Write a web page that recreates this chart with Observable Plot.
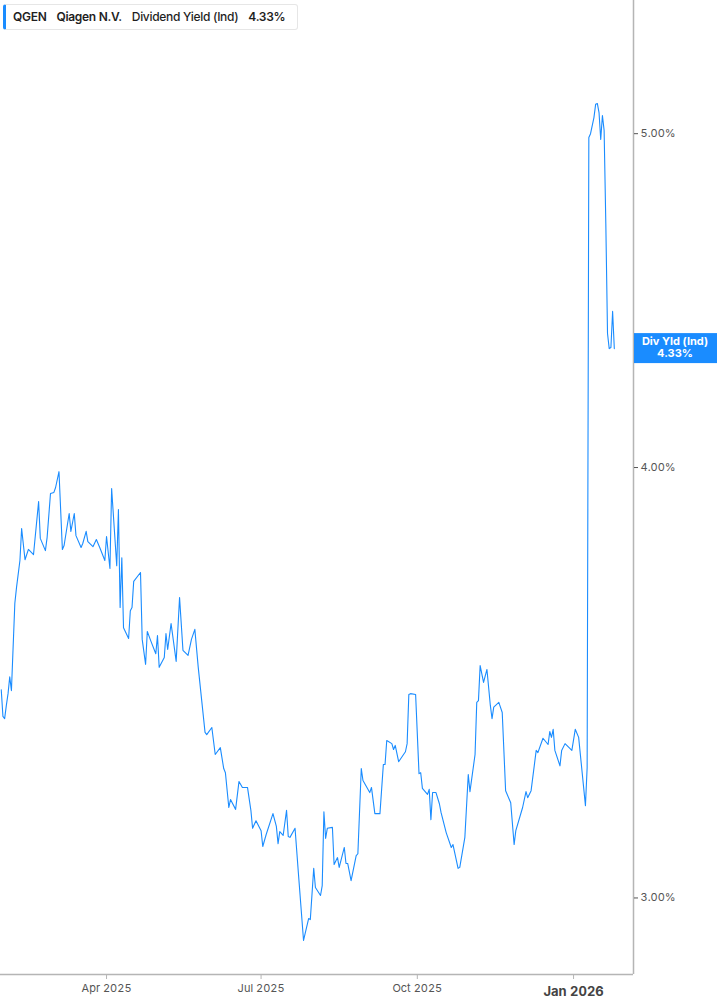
<!DOCTYPE html>
<html>
<head>
<meta charset="utf-8">
<script src="https://cdn.jsdelivr.net/npm/d3@7"></script>
<script src="https://cdn.jsdelivr.net/npm/@observablehq/plot@0.6"></script>
<style>
  html, body { margin: 0; padding: 0; background: #fff; }
  #wrap { position: relative; width: 717px; height: 1005px; font-family: Inter, "Noto Sans", sans-serif; }
  #hdr { position: absolute; left: 3px; top: 4px; height: 26px; background: #fff;
         border: 1px solid #e6e6e6; border-left: 3px solid #1a8cff; border-radius: 3px; box-sizing: border-box;
         font-size: 12px; font-weight: 600; color: #1f1f1f; line-height: 24px; white-space: nowrap;
         display: flex; gap: 10px; padding: 0 12px 0 7px; letter-spacing: -0.3px; }
</style>
</head>
<body>
<div id="wrap">
  <div id="chart"></div>
  <div id="hdr"><span>QGEN</span><span>Qiagen N.V.</span><span style="font-weight:500">Dividend Yield (Ind)</span><span>4.33%</span></div>
</div>
<script>
const dates = [
"2025-01-29","2025-01-30","2025-01-31","2025-02-01","2025-02-02","2025-02-03","2025-02-04","2025-02-06","2025-02-07","2025-02-09",
"2025-02-10","2025-02-12","2025-02-14","2025-02-17","2025-02-20","2025-02-21","2025-02-24","2025-02-25","2025-02-27","2025-03-01",
"2025-03-02","2025-03-04","2025-03-06","2025-03-07","2025-03-10","2025-03-11","2025-03-13","2025-03-14","2025-03-17","2025-03-18",
"2025-03-20","2025-03-21","2025-03-24","2025-03-26","2025-03-28","2025-03-31","2025-04-01","2025-04-03","2025-04-04","2025-04-07",
"2025-04-08","2025-04-09","2025-04-10","2025-04-11","2025-04-14","2025-04-15","2025-04-16","2025-04-17","2025-04-21","2025-04-22",
"2025-04-24","2025-04-25","2025-04-27","2025-04-30","2025-05-01","2025-05-02","2025-05-05","2025-05-06","2025-05-07","2025-05-09",
"2025-05-12","2025-05-14","2025-05-16","2025-05-19","2025-05-21","2025-05-23","2025-05-25","2025-05-29","2025-05-30","2025-06-02",
"2025-06-04","2025-06-07","2025-06-09","2025-06-10","2025-06-12","2025-06-13","2025-06-16","2025-06-18","2025-06-20","2025-06-23",
"2025-06-25","2025-06-26","2025-06-28","2025-07-01","2025-07-02","2025-07-04","2025-07-08","2025-07-10","2025-07-11","2025-07-12",
"2025-07-14","2025-07-16","2025-07-17","2025-07-18","2025-07-21","2025-07-23","2025-07-26","2025-07-29","2025-07-30","2025-08-01",
"2025-08-02","2025-08-05","2025-08-06","2025-08-07","2025-08-08","2025-08-09","2025-08-12","2025-08-13","2025-08-15","2025-08-16",
"2025-08-19","2025-08-20","2025-08-21","2025-08-23","2025-08-26","2025-08-27","2025-08-29","2025-08-30","2025-09-03","2025-09-04",
"2025-09-06","2025-09-09","2025-09-11","2025-09-12","2025-09-13","2025-09-16","2025-09-17","2025-09-18","2025-09-20","2025-09-24",
"2025-09-25","2025-09-26","2025-09-27","2025-09-30","2025-10-02","2025-10-03","2025-10-04","2025-10-07","2025-10-08","2025-10-09",
"2025-10-10","2025-10-12","2025-10-14","2025-10-15","2025-10-18","2025-10-21","2025-10-22","2025-10-25","2025-10-26","2025-10-29",
"2025-10-31","2025-11-01","2025-11-04","2025-11-05","2025-11-06","2025-11-07","2025-11-09","2025-11-11","2025-11-13","2025-11-14",
"2025-11-15","2025-11-18","2025-11-20","2025-11-22","2025-11-25","2025-11-27","2025-11-28","2025-12-02","2025-12-04","2025-12-05",
"2025-12-07","2025-12-10","2025-12-11","2025-12-14","2025-12-17","2025-12-18","2025-12-19","2025-12-20","2025-12-21","2025-12-24",
"2025-12-25","2025-12-27","2025-12-31","2026-01-02","2026-01-04","2026-01-08","2026-01-09","2026-01-10","2026-01-11","2026-01-13",
"2026-01-14","2026-01-15","2026-01-16","2026-01-17","2026-01-18","2026-01-19","2026-01-20","2026-01-21","2026-01-22","2026-01-23",
"2026-01-24","2026-01-25"
];
const yields = [
3.448,3.387,3.382,3.412,3.439,3.478,3.446,3.653,3.692,3.759,
3.840,3.761,3.787,3.774,3.910,3.815,3.784,3.817,3.931,3.934,
3.947,3.989,3.787,3.797,3.879,3.833,3.879,3.822,3.792,3.802,
3.833,3.807,3.794,3.812,3.792,3.759,3.820,3.739,3.944,3.746,
3.889,3.643,3.766,3.594,3.568,3.635,3.643,3.707,3.729,3.566,
3.507,3.585,3.563,3.532,3.575,3.500,3.523,3.580,3.542,3.604,
3.514,3.667,3.540,3.528,3.566,3.590,3.500,3.351,3.346,3.362,
3.302,3.317,3.271,3.262,3.187,3.204,3.183,3.243,3.230,3.230,
3.181,3.143,3.159,3.138,3.105,3.130,3.174,3.147,3.111,3.136,
3.128,3.181,3.126,3.124,3.143,3.049,2.916,2.959,2.957,3.060,
3.021,3.005,3.025,3.178,3.122,3.143,3.145,3.068,3.082,3.062,
3.103,3.070,3.070,3.035,3.086,3.090,3.271,3.245,3.219,3.230,
3.174,3.174,3.280,3.280,3.333,3.326,3.313,3.322,3.286,3.308,
3.326,3.437,3.439,3.437,3.260,3.262,3.228,3.215,3.226,3.161,
3.219,3.219,3.195,3.176,3.134,3.103,3.109,3.060,3.062,3.124,
3.258,3.221,3.302,3.419,3.423,3.504,3.465,3.495,3.412,3.382,
3.408,3.419,3.396,3.223,3.197,3.109,3.138,3.187,3.221,3.208,
3.223,3.311,3.306,3.338,3.324,3.353,3.340,3.358,3.311,3.277,
3.311,3.326,3.311,3.358,3.340,3.191,3.273,4.987,5.000,5.054,
5.099,5.102,5.071,4.981,5.061,5.011,4.709,4.375,4.331,4.334,
4.440,4.331
];
const yTicks = [3, 4, 5];
const xTicks = ["2025-04-01", "2025-07-01", "2025-10-01"];
const xTickLabels = ["Apr 2025", "Jul 2025", "Oct 2025"];
const xTickBold = ["2026-01-01"];
const xTickBoldLabels = ["Jan 2026"];
const xDomain = [new Date("2025-01-28T13:26Z"), new Date("2026-02-05T07:12Z")];
const yDomain = [2.8504, 5.4655];
const seriesLabel = "Div Yld (Ind)";

const data = dates.map((d, i) => ({date: new Date(d + "T00:00Z"), value: yields[i]}));
const last = data[data.length - 1];
const lineColor = "#1a8cff";
const axisColor = "#b5b5b5";

const chart = Plot.plot({
  width: 717,
  height: 1005,
  marginLeft: 0,
  marginRight: 84,
  marginTop: 0,
  marginBottom: 31,
  style: {fontFamily: "Inter, 'Noto Sans', sans-serif", background: "#fff", overflow: "visible"},
  x: {type: "utc", domain: xDomain},
  y: {type: "log", domain: yDomain},
  marks: [
    Plot.ruleY([yDomain[0]], {stroke: axisColor, strokeWidth: 1.5}),
    Plot.ruleX([xDomain[1]], {stroke: axisColor, strokeWidth: 1.5}),
    Plot.axisY({anchor: "right", ticks: yTicks, tickSize: 4, tickPadding: 3, tickFormat: d => d.toFixed(2) + "%",
      fontSize: 11, color: "#555", stroke: "#555", label: null}),
    Plot.axisX({ticks: xTicks.map(d => new Date(d + "T00:00Z")), tickSize: 5, tickPadding: 5,
      tickFormat: (d, i) => xTickLabels[i], fontSize: 11, fill: "#555", stroke: axisColor, label: null}),
    Plot.axisX({ticks: xTickBold.map(d => new Date(d + "T00:00Z")), tickSize: 5, tickPadding: 7,
      tickFormat: (d, i) => xTickBoldLabels[i], fontSize: 13, fontWeight: 700, fill: "#444", stroke: axisColor, label: null}),
    Plot.line(data, {x: "date", y: "value", stroke: lineColor, strokeWidth: 1.1})
  ]
});
document.getElementById("chart").appendChild(chart);

// end-value tag in right margin, positioned through the chart's scales
const ys = chart.scale("y");
const xs = chart.scale("x");
const yPos = Plot.scale({y: ys}).apply(last.value);
const xEdge = Plot.scale({x: xs}).apply(xDomain[1]);
const svg = d3.select(chart);
const g = svg.append("g");
g.append("rect").attr("x", xEdge + 1).attr("y", yPos - 15).attr("width", 717 - xEdge - 1).attr("height", 30).attr("fill", "#1a8cff");
g.append("text").attr("x", (xEdge + 717) / 2).attr("y", yPos - 3).attr("text-anchor", "middle")
  .attr("fill", "#fff").attr("font-size", 11).attr("font-weight", 700).text(seriesLabel);
g.append("text").attr("x", (xEdge + 717) / 2).attr("y", yPos + 9).attr("text-anchor", "middle")
  .attr("fill", "#fff").attr("font-size", 11).attr("font-weight", 700).text(last.value.toFixed(2) + "%");
</script>
</body>
</html>
